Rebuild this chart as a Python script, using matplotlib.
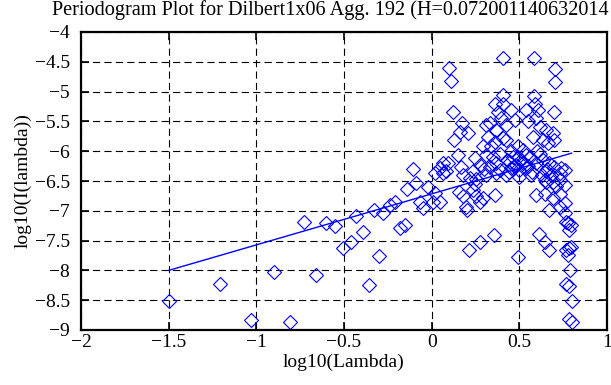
import matplotlib
matplotlib.use("Agg")
import matplotlib.pyplot as plt
import numpy as np

title_text = "Periodogram Plot for Dilbert1x06 Agg. 192 (H=0.072001140632014"
x_label = "log10(Lambda)"
y_label = "log10(I(lambda))"
x_ticks = [-2, -1.5, -1, -0.5, 0, 0.5, 1]
y_ticks = [-9, -8.5, -8, -7.5, -7, -6.5, -6, -5.5, -5, -4.5, -4]

hurst = 0.072001140632014
fit_intercept = -6.716
fit_x_range = [-1.5, 0.798]

log_lambda = [
    -1.50, -1.21, -1.03, -0.90, -0.81, -0.73, -0.66, -0.60, -0.55, -0.505,
    -0.46, -0.43, -0.39, -0.36, -0.33, -0.30, -0.28, -0.24, -0.21, -0.18,
    -0.15, -0.14, -0.106, -0.087, -0.068, -0.05, -0.021, 0.008, 0.017, 0.017,
    0.046, 0.046, 0.063, 0.065, 0.084, 0.093, 0.099, 0.108, 0.122, 0.13,
    0.15, 0.156, 0.16, 0.169, 0.175, 0.207, 0.178, 0.197, 0.20, 0.213,
    0.235, 0.235, 0.245, 0.254, 0.254, 0.273, 0.273, 0.273, 0.29, 0.292,
    0.31, 0.312, 0.312, 0.32, 0.33, 0.33, 0.34, 0.355, 0.359, 0.359,
    0.359, 0.368, 0.368, 0.368, 0.378, 0.387, 0.397, 0.406, 0.406, 0.406,
    0.406, 0.425, 0.425, 0.425, 0.444, 0.454, 0.454, 0.463, 0.473, 0.482,
    0.492, 0.492, 0.50, 0.50, 0.52, 0.54, 0.54, 0.54, 0.549, 0.568,
    0.577, 0.581, 0.581, 0.587, 0.597, 0.597, 0.597, 0.606, 0.61, 0.616,
    0.635, 0.635, 0.644, 0.644, 0.648, 0.653, 0.653, 0.653, 0.662, 0.672,
    0.672, 0.672, 0.68, 0.69, 0.69, 0.69, 0.70, 0.70, 0.70, 0.705,
    0.705, 0.71, 0.73, 0.73, 0.73, 0.73, 0.739, 0.758, 0.758, 0.758,
    0.758, 0.767, 0.767, 0.775, 0.777, 0.786, 0.786, 0.796, 0.796, 0.79,
    0.765, 0.785, 0.80, 0.785, 0.80,
    0.43, 0.47, 0.52, 0.56, 0.62, 0.66, 0.45, 0.51, 0.57, 0.63,
    0.39, 0.44, 0.49, 0.55, 0.60, 0.35, 0.30, 0.25, 0.22, 0.18,
]
log_periodogram = [
    -8.51, -8.23, -8.83, -8.02, -8.87, -7.19, -8.07, -7.20, -7.25, -7.63,
    -7.53, -7.08, -7.36, -8.24, -6.99, -7.75, -7.03, -6.90, -6.86, -7.29,
    -7.24, -6.64, -6.30, -6.54, -6.85, -6.96, -6.60, -6.85, -6.37, -6.70,
    -6.85, -6.29, -6.37, -6.20, -6.34, -6.20, -4.61, -4.83, -5.35, -5.81,
    -6.06, -6.68, -5.67, -6.26, -5.53, -5.70, -6.76, -6.93, -6.99, -7.65,
    -6.65, -6.34, -6.12, -6.46, -6.76, -7.52, -6.85, -6.23, -6.79, -5.92,
    -5.56, -6.06, -6.40, -5.76, -5.53, -6.26, -5.92, -7.41, -5.20, -5.84,
    -6.73, -5.64, -6.20, -6.37, -5.34, -6.32, -5.45, -4.44, -5.06, -5.20,
    -5.78, -5.56, -5.81, -6.40, -6.18, -5.31, -6.29, -6.09, -5.48, -6.23,
    -5.92, -7.78, -6.32, -6.43, -5.98, -5.31, -6.06, -6.29, -5.50, -6.40,
    -5.76, -4.43, -5.08, -5.20, -5.45, -6.20, -6.73, -5.31, -7.39, -5.59,
    -5.81, -6.15, -6.48, -6.71, -7.52, -5.64, -6.34, -6.51, -5.87, -6.20,
    -6.99, -7.66, -6.40, -5.70, -6.51, -6.79, -5.34, -5.81, -6.26, -4.62,
    -4.84, -6.59, -6.37, -6.48, -6.71, -6.93, -6.29, -6.32, -6.57, -6.87,
    -7.04, -7.18, -7.66, -7.20, -7.74, -7.32, -7.63, -7.24, -7.60, -8.00,
    -8.22, -8.26, -8.51, -8.82, -8.86,
    -6.15, -6.25, -6.20, -6.10, -6.05, -6.30, -6.00, -6.15, -6.35, -6.40,
    -6.05, -6.35, -6.10, -6.25, -6.00, -6.10, -6.30, -6.55, -6.45, -6.40,
]

blue = "#0000ff"
serif = ["Liberation Serif", "DejaVu Serif"]
fs = 14

fig = plt.figure(figsize=(6.11, 3.85), dpi=100)
ax = fig.add_axes([81 / 611, 1 - 330 / 385, (607 - 81) / 611, (330 - 32) / 385])

ax.plot(log_lambda, log_periodogram, linestyle="none", marker="D",
        markersize=7.6, markerfacecolor="none", markeredgecolor=blue,
        markeredgewidth=0.8)

slope = 1 - 2 * hurst
fx = np.array(fit_x_range)
ax.plot(fx, fit_intercept + slope * fx, color=blue, linewidth=1.0)

ax.set_xlim(-2, 1)
ax.set_ylim(-9, -4)
ax.set_xticks(x_ticks)
ax.set_yticks(y_ticks)
ax.set_xticklabels([f"{t:g}".replace("-", "\u2212") for t in x_ticks],
                   fontfamily=serif, fontsize=fs)
ax.set_yticklabels([f"{t:g}".replace("-", "\u2212") for t in y_ticks],
                   fontfamily=serif, fontsize=fs)
ax.grid(True, color="black", linestyle=(0, (6.5, 3.8)), linewidth=0.8)
ax.tick_params(direction="in", length=6, width=1.2, top=True, right=True,
               colors="black")
ax.tick_params(axis="y", pad=8)
ax.tick_params(axis="x", pad=3)
for s in ax.spines.values():
    s.set_linewidth(1.6)
    s.set_color("black")

ax.set_xlabel(x_label, fontfamily=serif, fontsize=fs, labelpad=2)
ax.set_ylabel(y_label, fontfamily=serif, fontsize=fs, labelpad=2)

fig.text(52 / 611, 1 - 15 / 385, title_text, fontfamily=serif, fontsize=14.6,
         ha="left", va="baseline")

fig.savefig("out.png", dpi=100)
